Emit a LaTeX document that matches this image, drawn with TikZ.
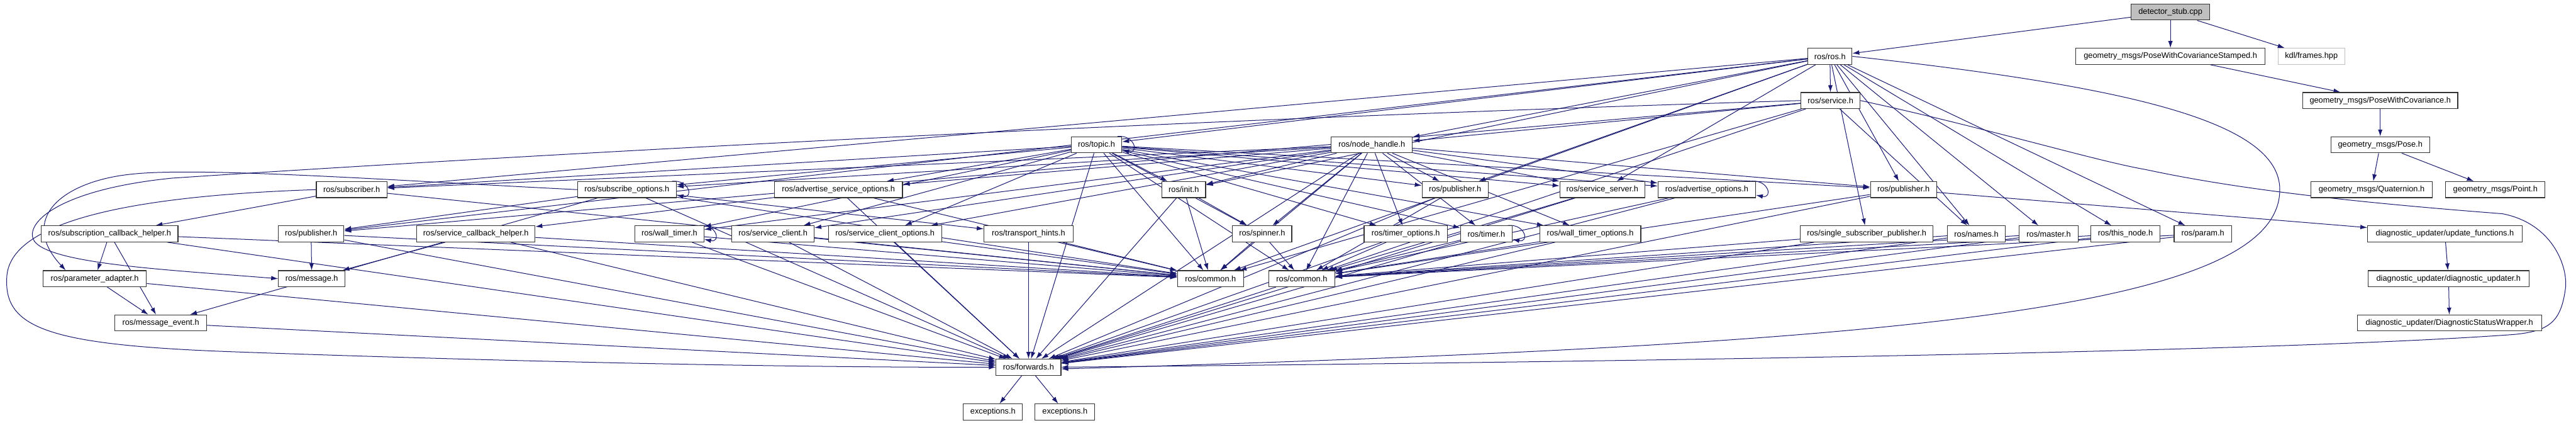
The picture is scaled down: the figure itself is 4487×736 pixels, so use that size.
\documentclass[tikz,border=0pt]{standalone}
\usepackage{fontspec}
\setmainfont{Liberation Sans}
\usetikzlibrary{arrows.meta}
\definecolor{edgec}{HTML}{191970}
\pgfdeclarelayer{bg}
\pgfsetlayers{bg,main}
\tikzset{
  box/.style={draw=black!80, line width=1.2pt, fill=white, minimum height=28pt, inner sep=0pt,
              font=\fontsize{14}{16}\selectfont},
  rootbox/.style={box, fill=black!25},
  extbox/.style={box, draw=black!25},
  e/.style={draw=edgec, line width=1.1pt, -{Latex[length=12pt,width=8pt]}},
}
\newcommand{\selfloop}[1]{\draw[e] ([xshift=-8pt]#1.north east) .. controls +(30,-3) and +(30,6) .. ([yshift=5pt]#1.south east);}
\begin{document}
\begin{tikzpicture}[x=1pt,y=-1pt]
\begin{pgfonlayer}{bg}
\fill[white] (0,0) rectangle (4487,736);
\end{pgfonlayer}
\useasboundingbox (0,0) rectangle (4487,736);
% level 0
\node[rootbox, minimum width=137pt] (stub) at (3780.5,21) {detector\_stub.cpp};
% level 1
\node[box, minimum width=77pt] (ros) at (3187.5,98) {ros/ros.h};
\node[box, minimum width=329pt] (pwcs) at (3780.5,98) {geometry\_msgs/PoseWithCovarianceStamped.h};
\node[extbox, minimum width=116pt] (kdl) at (4026,98) {kdl/frames.hpp};
% level 2
\node[box, minimum width=103pt] (service) at (3188.5,175) {ros/service.h};
\node[box, minimum width=270pt] (pwc) at (4146,175) {geometry\_msgs/PoseWithCovariance.h};
% level 3
\node[box, minimum width=88pt] (topic) at (1910,252) {ros/topic.h};
\node[box, minimum width=141pt] (nh) at (2389.5,252) {ros/node\_handle.h};
\node[box, minimum width=172pt] (pose) at (4146,252) {geometry\_msgs/Pose.h};
% level 4
\node[box, minimum width=123pt] (subscriber) at (612.5,330) {ros/subscriber.h};
\node[box, minimum width=172pt] (subopt) at (1092,330) {ros/subscribe\_options.h};
\node[box, minimum width=223pt] (asopt) at (1460.5,330) {ros/advertise\_service\_options.h};
\node[box, minimum width=76pt] (init) at (2062,330) {ros/init.h};
\node[box, minimum width=115pt] (pubA) at (2534.5,330) {ros/publisher.h};
\node[box, minimum width=148pt] (ssrv) at (2791,330) {ros/service\_server.h};
\node[box, minimum width=170pt] (aopt) at (2973,330) {ros/advertise\_options.h};
\node[box, minimum width=115pt] (pubB) at (3315.5,330) {ros/publisher.h};
\node[box, minimum width=212pt] (quat) at (4131,330) {geometry\_msgs/Quaternion.h};
\node[box, minimum width=173pt] (point) at (4346.5,330) {geometry\_msgs/Point.h};
% level 5
\node[box, minimum width=238pt] (sch) at (191,407) {ros/subscription\_callback\_helper.h};
\node[box, minimum width=114pt] (pubC) at (542,407) {ros/publisher.h};
\node[box, minimum width=206pt] (srvcb) at (829,407) {ros/service\_callback\_helper.h};
\node[box, minimum width=120pt] (wtimer) at (1166,407) {ros/wall\_timer.h};
\node[box, minimum width=143pt] (sclient) at (1346.5,407) {ros/service\_client.h};
\node[box, minimum width=197pt] (scopt) at (1541.5,407) {ros/service\_client\_options.h};
\node[box, minimum width=155pt] (thints) at (1791.5,407) {ros/transport\_hints.h};
\node[box, minimum width=103pt] (spinner) at (2198.5,407) {ros/spinner.h};
\node[box, minimum width=145pt] (topt) at (2448.5,407) {ros/timer\_options.h};
\node[box, minimum width=90pt] (timer) at (2589,407) {ros/timer.h};
\node[box, minimum width=176pt] (wtopt) at (2770,407) {ros/wall\_timer\_options.h};
\node[box, minimum width=231pt] (ssp) at (3251.5,407) {ros/single\_subscriber\_publisher.h};
\node[box, minimum width=101pt] (names) at (3442.5,407) {ros/names.h};
\node[box, minimum width=103pt] (master) at (3568.5,407) {ros/master.h};
\node[box, minimum width=120pt] (thisnode) at (3702,407) {ros/this\_node.h};
\node[box, minimum width=100pt] (param) at (3837,407) {ros/param.h};
\node[box, minimum width=269pt] (upd) at (4258.5,407) {diagnostic\_updater/update\_functions.h};
% level 6
\node[box, minimum width=180pt] (padapt) at (165,485) {ros/parameter\_adapter.h};
\node[box, minimum width=116pt] (message) at (543,485) {ros/message.h};
\node[box, minimum width=115pt] (commonA) at (2108.5,485) {ros/common.h};
\node[box, minimum width=115pt] (commonB) at (2267.5,485) {ros/common.h};
\node[box, minimum width=280pt] (dupd) at (4265,485) {diagnostic\_updater/diagnostic\_updater.h};
% level 7
\node[box, minimum width=160pt] (mevent) at (280,562) {ros/message\_event.h};
\node[box, minimum width=321pt] (dsw) at (4266.5,562) {diagnostic\_updater/DiagnosticStatusWrapper.h};
% level 8
\node[box, minimum width=113pt] (fwd) at (1791.5,639) {ros/forwards.h};
% level 9
\node[box, minimum width=103pt] (excA) at (1729.5,717) {exceptions.h};
\node[box, minimum width=104pt] (excB) at (1855,717) {exceptions.h};

\begin{pgfonlayer}{bg}
% top cluster
\draw[e] (stub) -- (ros);
\draw[e] (stub) -- (pwcs);
\draw[e] (stub) -- (kdl);
\draw[e] (pwcs) -- (pwc);
\draw[e] (pwc) -- (pose);
\draw[e] (pose) -- (quat);
\draw[e] (pose) -- (point);
\draw[e] (pubB) -- (upd);
\draw[e] (upd) -- (dupd);
\draw[e] (dupd) -- (dsw);
% ros.h
\foreach \t in {service,topic,nh,subscriber,init,pubA,ssrv,pubB,ssp,names,master,thisnode,param,commonA,pubC}
  \draw[e] (ros) -- (\t);
\draw[e] (ros.east) .. controls (3700,150) and (3971,210) .. (3971,330)
  .. controls (3971,540) and (3300,600) .. ([yshift=-3pt]fwd.east);
% service.h
\foreach \t in {nh,names,commonA,commonB,pubC}
  \draw[e] (service) -- (\t);
\draw[e] (service.east) .. controls (3450,220) and (3650,280) .. (3737,295)
  .. controls (3900,330) and (4100,352) .. (4359,372)
  .. controls (4450,390) and (4475,470) .. (4468,506)
  .. controls (4460,560) and (4440,576) .. (4380,582)
  .. controls (4000,610) and (3000,628) .. (fwd.east);
\draw[e] (service.west) .. controls (1800,215) and (600,290) .. (300,310)
  .. controls (100,330) and (40,390) .. (60,420)
  .. controls (90,460) and (300,470) .. (message.west);
% topic.h and node_handle.h
\foreach \t in {subscriber,subopt,asopt,init,pubA,ssrv,aopt,pubB,wtimer,sclient,scopt,spinner,topt,timer,wtopt,commonA,commonB,fwd}
  {\draw[e] (topic) -- (\t);
   \draw[e] (nh) -- (\t);}
% level 4
\draw[e] (subscriber) -- (sch);
\draw[e] (subscriber) -- (commonA);
\draw[e] (subscriber.west) .. controls (250,340) and (20,380) .. (12,480)
  .. controls (5,570) and (80,600) .. (400,612) .. controls (900,630) and (1400,640) .. (fwd.west);
\foreach \t in {thints,mevent,pubC,commonA,fwd}
  \draw[e] (subopt) -- (\t);
\draw[e] (subopt.west) .. controls (700,315) and (350,290) .. (230,303)
  .. controls (110,315) and (30,380) .. ([xshift=40pt]padapt.north west);
\foreach \t in {srvcb,commonA,fwd} \draw[e] (asopt) -- (\t);
\foreach \t in {spinner,commonA,fwd} \draw[e] (init) -- (\t);
\foreach \t in {commonB,fwd} {\draw[e] (pubA) -- (\t); \draw[e] (ssrv) -- (\t); \draw[e] (aopt) -- (\t); \draw[e] (pubB) -- (\t);}
% level 5
\foreach \t in {padapt,mevent,commonA,fwd} \draw[e] (sch) -- (\t);
\foreach \t in {message,commonA,fwd} {\draw[e] (pubC) -- (\t); \draw[e] (srvcb) -- (\t);}
\foreach \n in {wtimer,sclient,scopt,thints} {\draw[e] (\n) -- (commonA); \draw[e] (\n) -- (fwd);}
\draw[e] (spinner) -- (commonA);
\draw[e] (spinner) -- (commonB);
\foreach \n in {topt,timer,wtopt,ssp,names,master,thisnode,param} {\draw[e] (\n) -- (commonB); \draw[e] (\n) -- (fwd);}
% lower levels
\draw[e] (padapt) -- (mevent);
\draw[e] (padapt) -- (fwd);
\draw[e] (mevent) -- (fwd);
\draw[e] (commonB) -- (fwd);
\draw[e] (fwd) -- (excA);
\draw[e] (fwd) -- (excB);
% self loops
\selfloop{topic}
\selfloop{subopt}
\selfloop{aopt}
\selfloop{wtimer}
\selfloop{timer}
\end{pgfonlayer}
\end{tikzpicture}
\end{document}
